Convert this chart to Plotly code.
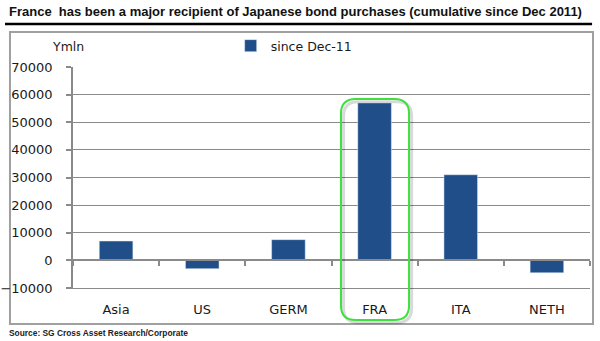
import plotly.graph_objects as go

categories = ["Asia", "US", "GERM", "FRA", "ITA", "NETH"]
values = [7000, -3000, 7500, 57000, 31000, -4500]
series_name = "since Dec-11"
y_ticks = [-10000, 0, 10000, 20000, 30000, 40000, 50000, 60000, 70000]

BAR = "#1f4e89"
GRID = "#8a8a8a"
TXT = "#1a1a1a"
FONT = "DejaVu Sans"

fig = go.Figure()
fig.add_trace(go.Bar(x=categories, y=values, name=series_name, marker_color=BAR,
                     width=0.39, xaxis="x", yaxis="y"))
# helper trace for the zero-line category axis (tick marks at boundaries)
fig.add_trace(go.Scatter(x=categories, y=values, mode="markers", marker=dict(opacity=0),
                         showlegend=False, hoverinfo="skip", xaxis="x2", yaxis="y"))

# rounded highlight around FRA (x in category index units, y in paper units)
i = categories.index("FRA")
x0, x1 = i - 0.39, i + 0.40
y0, y1 = -0.145, 0.855
rx, ry = 0.17, 0.066


def rounded(x0, x1, y0, y1):
    return (f"M{x0+rx},{y1} L{x1-rx},{y1} Q{x1},{y1} {x1},{y1-ry} "
            f"L{x1},{y0+ry} Q{x1},{y0} {x1-rx},{y0} L{x0+rx},{y0} "
            f"Q{x0},{y0} {x0},{y0+ry} L{x0},{y1-ry} Q{x0},{y1} {x0+rx},{y1} Z")


path = rounded(x0, x1, y0, y1)
shadow = rounded(x0 + 0.03, x1 + 0.03, y0 - 0.012, y1 - 0.012)

shapes = [
    # outer chart box
    dict(type="rect", xref="paper", yref="paper", x0=-0.1219, x1=1.0058, y0=-0.163, y1=1.158,
         line=dict(color="#a0a0a0", width=2), layer="below"),
    # title rule
    dict(type="line", xref="paper", yref="paper", x0=-0.1315, x1=1.004, y0=1.1946, y1=1.1946,
         line=dict(color="#000000", width=2.5)),
    dict(type="path", xref="x", yref="paper", path=shadow, line=dict(color="rgba(0,0,0,0.15)", width=3)),
    dict(type="path", xref="x", yref="paper", path=path, line=dict(color="#3ee03e", width=2)),
]

annotations = [
    dict(text="<b>France  has been a major recipient of Japanese bond purchases (cumulative since Dec 2011)</b>",
         xref="paper", yref="paper", x=-0.1277, y=1.249, xanchor="left", yanchor="middle",
         showarrow=False, font=dict(family="Liberation Sans", size=13, color="#111")),
    dict(text="<b>Source: SG Cross Asset Research/Corporate</b>", xref="paper", yref="paper",
         x=-0.1277, y=-0.204, xanchor="left", yanchor="middle", showarrow=False,
         font=dict(family="Liberation Sans", size=8.4, color="#222")),
    dict(text="Ymln", xref="paper", yref="paper", x=-0.045, y=1.095, xanchor="left",
         yanchor="middle", showarrow=False, font=dict(family=FONT, size=12.5, color=TXT)),
]

fig.update_layout(
    width=600, height=341,
    margin=dict(l=73, r=10, t=67, b=53),
    paper_bgcolor="white", plot_bgcolor="white",
    font=dict(family=FONT, size=13, color=TXT),
    showlegend=True,
    legend=dict(orientation="h", x=0.305, y=1.095, xanchor="left", yanchor="middle",
                font=dict(family=FONT, size=12.5, color=TXT), bgcolor="rgba(0,0,0,0)"),
    xaxis=dict(type="category", range=[-0.5, 5.5], showline=True, linecolor=GRID, linewidth=1,
               ticks="", showgrid=False, ticklabelstandoff=9, tickfont=dict(size=13),
               automargin=False),
    xaxis2=dict(type="category", overlaying="x", anchor="free", position=0.125, matches="x",
                range=[-0.5, 5.5], showline=True, linecolor=GRID, linewidth=1.5, ticks="outside",
                tickson="boundaries", ticklen=5, tickcolor=GRID, tickwidth=1.5,
                showticklabels=False, showgrid=False, automargin=False),
    yaxis=dict(range=[-10000, 70000], tickvals=y_ticks, tickformat="d", showgrid=True,
               gridcolor=GRID, gridwidth=1, zeroline=False, showline=True, linecolor=GRID,
               linewidth=1.5, ticks="outside", ticklen=5, tickcolor=GRID, tickwidth=1.5,
               ticklabelstandoff=11, tickfont=dict(size=13), automargin=False),
    shapes=shapes, annotations=annotations,
)

fig.write_html("out.html")
